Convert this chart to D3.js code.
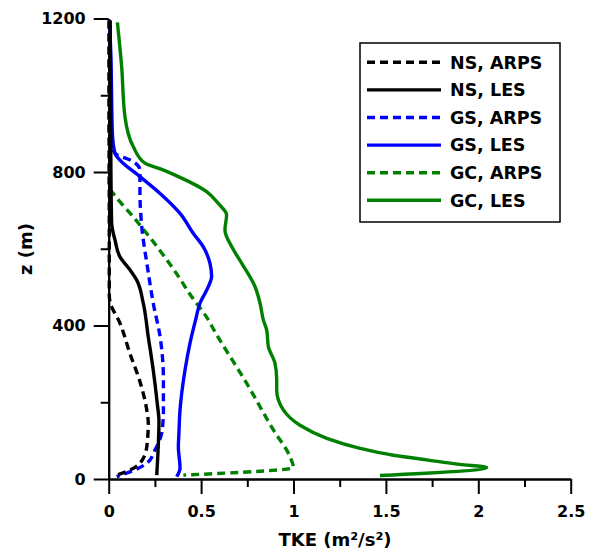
<!DOCTYPE html>
<meta charset="utf-8">
<head>
<script src="https://cdn.jsdelivr.net/npm/d3@7"></script>
</head>
<body>
<div id="chart"></div>
<script>

// TKE profiles, values (tke in m2/s2, z in m)
var nsArpsZ   = [1195, 900, 600, 480, 462, 406, 327, 249, 180, 145, 84, 41, 23, 10];
var nsArpsTke = [0.003, 0.003, 0.003, 0.003, 0.007, 0.061, 0.115, 0.172, 0.206, 0.214, 0.206, 0.169, 0.115, 0.043];

var nsLesZ   = [1195, 1000, 800, 666, 623, 579, 545, 519, 458, 371, 284, 200, 150, 84, 10];
var nsLesTke = [0.008, 0.01, 0.012, 0.016, 0.034, 0.061, 0.115, 0.151, 0.187, 0.214, 0.241, 0.262, 0.272, 0.268, 0.26];

var gsArpsZ   = [1195, 900, 849, 827, 805, 753, 657, 545, 458, 371, 258, 180, 128, 76, 41, 22, 6];
var gsArpsTke = [0.003, 0.003, 0.034, 0.133, 0.169, 0.169, 0.179, 0.212, 0.241, 0.278, 0.296, 0.296, 0.29, 0.251, 0.206, 0.133, 0.043];

var gsLesZ   = [1195, 1100, 900, 849, 831, 788, 744, 692, 640, 605, 562, 527, 501, 458, 414, 354, 284, 223, 180, 120, 84, 28, 6];
var gsLesTke = [0.005, 0.012, 0.02, 0.034, 0.061, 0.169, 0.278, 0.386, 0.458, 0.512, 0.548, 0.557, 0.539, 0.494, 0.47, 0.44, 0.413, 0.395, 0.386, 0.38, 0.377, 0.386, 0.368];

var gcArpsZ   = [1195, 760, 744, 683, 595, 523, 484, 414, 388, 249, 128, 58, 30, 10];
var gcArpsTke = [0.003, 0.003, 0.025, 0.133, 0.278, 0.384, 0.436, 0.54, 0.57, 0.747, 0.891, 0.981, 0.999, 0.404];

var gcLesZ   = [1190, 1075, 944, 866, 823, 808, 788, 749, 718, 688, 649, 605, 562, 501, 458, 414, 388, 345, 301, 260, 232, 180, 140, 106, 80, 62, 50, 38, 30, 9];
var gcLesTke = [0.047, 0.07, 0.088, 0.133, 0.196, 0.28, 0.377, 0.53, 0.593, 0.638, 0.629, 0.666, 0.72, 0.792, 0.819, 0.837, 0.855, 0.864, 0.9, 0.909, 0.909, 0.945, 1.035, 1.18, 1.36, 1.54, 1.72, 1.9, 2.045, 1.468];

var seriesNames = ["NS, ARPS", "NS, LES", "GS, ARPS", "GS, LES", "GC, ARPS", "GC, LES"];
var xMajorTicks = [0, 0.5, 1, 1.5, 2, 2.5];
var xMinorTicks = [0.25, 0.75, 1.25, 1.75, 2.25];
var yMajorTicks = [0, 400, 800, 1200];
var yMinorTicks = [200, 600, 1000];

var series = [
  {name: seriesNames[0], z: nsArpsZ, v: nsArpsTke, color: "#000000", dash: "8,5"},
  {name: seriesNames[1], z: nsLesZ,  v: nsLesTke,  color: "#000000", dash: null},
  {name: seriesNames[2], z: gsArpsZ, v: gsArpsTke, color: "#0000ff", dash: "8,5"},
  {name: seriesNames[3], z: gsLesZ,  v: gsLesTke,  color: "#0000ff", dash: null},
  {name: seriesNames[4], z: gcArpsZ, v: gcArpsTke, color: "#008000", dash: "8,5"},
  {name: seriesNames[5], z: gcLesZ,  v: gcLesTke,  color: "#008000", dash: null}
];

var width = 589, height = 552;

var x = d3.scaleLinear().domain([0, 2.5]).range([108.7, 570.7]);
var y = d3.scaleLinear().domain([0, 1200]).range([479, 18.5]);

var svg = d3.select("#chart").append("svg")
    .attr("width", width)
    .attr("height", height);

// minor ticks first, then major axes on top
svg.append("g")
    .attr("class", "axis")
    .attr("transform", "translate(0," + y(0) + ")")
    .call(d3.axisBottom(x).tickValues(xMinorTicks).tickSize(8).tickSizeOuter(0).tickFormat(""));
svg.append("g")
    .attr("class", "axis")
    .attr("transform", "translate(0," + y(0) + ")")
    .call(d3.axisBottom(x).tickValues(xMajorTicks).tickSize(15).tickSizeOuter(0).tickPadding(12)
      .tickFormat(function(d) { return d; }));

svg.append("g")
    .attr("class", "axis")
    .attr("transform", "translate(" + x(0) + ",0)")
    .call(d3.axisLeft(y).tickValues(yMinorTicks).tickSize(8).tickSizeOuter(0).tickFormat(""));
svg.append("g")
    .attr("class", "axis")
    .attr("transform", "translate(" + x(0) + ",0)")
    .call(d3.axisLeft(y).tickValues(yMajorTicks).tickSize(15).tickSizeOuter(0).tickPadding(8)
      .tickFormat(d3.format("d")));

// axis titles
svg.append("text")
    .attr("class", "title")
    .attr("x", 335)
    .attr("y", 546)
    .attr("text-anchor", "middle")
    .text("TKE (m²/s²)");

svg.append("text")
    .attr("class", "title")
    .attr("transform", "translate(32,249) rotate(-90)")
    .attr("text-anchor", "middle")
    .text("z (m)");

// profiles, drawn back to front; z is monotone along each profile
var line = d3.line()
    .curve(d3.curveMonotoneY)
    .x(function(d) { return x(d[0]); })
    .y(function(d) { return y(d[1]); });

var drawOrder = [5, 4, 3, 2, 1, 0];
drawOrder.forEach(function(i) {
  var s = series[i];
  var pts = s.v.map(function(v, k) { return [v, s.z[k]]; });
  svg.append("path")
      .datum(pts)
      .attr("d", line)
      .attr("fill", "none")
      .attr("stroke", s.color)
      .attr("stroke-width", 3.4)
      .attr("stroke-linejoin", "round")
      .attr("stroke-dasharray", s.dash);
});

// legend
var legend = svg.append("g").attr("transform", "translate(360,43)");
legend.append("rect")
    .attr("width", 200)
    .attr("height", 179)
    .attr("fill", "white")
    .attr("stroke", "black")
    .attr("stroke-width", 1.5);

series.forEach(function(s, i) {
  var ly = 19.3 + i * 27.6;
  legend.append("line")
      .attr("x1", 7).attr("x2", 81)
      .attr("y1", ly).attr("y2", ly)
      .attr("stroke", s.color)
      .attr("stroke-width", 3.4)
      .attr("stroke-dasharray", s.dash);
  legend.append("text")
      .attr("class", "legend-text")
      .attr("x", 90)
      .attr("y", ly)
      .attr("dy", "0.36em")
      .text(s.name);
});

</script>
</body>

<style type="text/css">
body {
  margin: 0;
  background: white;
}
.axis path, .axis line {
  stroke: black;
  stroke-width: 2;
}
.axis text {
  font-family: "DejaVu Sans", sans-serif;
  font-weight: bold;
  font-size: 16px;
  fill: black;
}
.title {
  font-family: "DejaVu Sans", sans-serif;
  font-weight: bold;
  font-size: 18px;
}
.legend-text {
  font-family: "DejaVu Sans", sans-serif;
  font-weight: bold;
  font-size: 17.5px;
}
</style>
